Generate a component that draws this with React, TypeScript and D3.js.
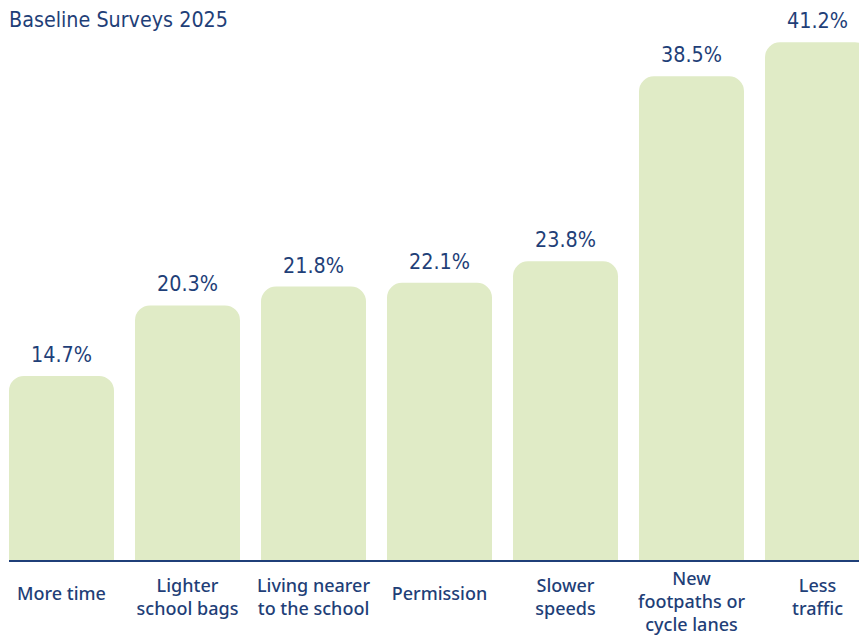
import React from "react";
import * as d3 from "d3";

const categories: string[][] = [
  ["More time"],
  ["Lighter", "school bags"],
  ["Living nearer", "to the school"],
  ["Permission"],
  ["Slower", "speeds"],
  ["New", "footpaths or", "cycle lanes"],
  ["Less", "traffic"],
];
const values: number[] = [14.7, 20.3, 21.8, 22.1, 23.8, 38.5, 41.2];
const title = "Baseline Surveys 2025";

const W = 859;
const H = 641;
const BASE = 561;
const BLUE = "#1f3f78";
const GREEN = "#e0ebc6";

function topRoundedRect(x: number, y: number, w: number, h: number, r: number) {
  const rr = Math.min(r, w / 2, h);
  const p = d3.path();
  p.moveTo(x, y + h);
  p.lineTo(x, y + rr);
  p.arcTo(x, y, x + rr, y, rr);
  p.lineTo(x + w - rr, y);
  p.arcTo(x + w, y, x + w, y + rr, rr);
  p.lineTo(x + w, y + h);
  p.closePath();
  return p.toString();
}

export default function App() {
  const keys = categories.map((c) => c.join(" "));
  const x = d3
    .scaleBand<string>()
    .domain(keys)
    .range([9, 870])
    .paddingInner(21 / 126)
    .paddingOuter(0);
  const y = d3.scaleLinear().domain([0, 40]).range([BASE, BASE - 503.6]);
  const bw = x.bandwidth();

  return (
    <svg
      width={W}
      height={H}
      style={{ position: "absolute", left: 0, top: 0, background: "#fff" }}
    >
      <text
        x={9}
        y={27}
        fill={BLUE}
        fontFamily="'DejaVu Sans Condensed', 'DejaVu Sans', Tahoma, sans-serif"
        fontSize={21}
        textLength={219}
        lengthAdjust="spacingAndGlyphs"
      >
        {title}
      </text>
      {values.map((v, i) => {
        const k = keys[i];
        const x0 = x(k) as number;
        const yt = y(v);
        return (
          <g key={k}>
            <path d={topRoundedRect(x0, yt, bw, BASE - yt, 15)} fill={GREEN} />
            <text
              x={x0 + bw / 2}
              y={yt - 14}
              textAnchor="middle"
              fill={BLUE}
              fontFamily="'DejaVu Sans Condensed', 'DejaVu Sans', Tahoma, sans-serif"
              fontSize={21}
              textLength={61}
              lengthAdjust="spacingAndGlyphs"
            >
              {v.toFixed(1) + "%"}
            </text>
          </g>
        );
      })}
      <line x1={9} x2={W} y1={BASE} y2={BASE} stroke={BLUE} strokeWidth={2} />
      {categories.map((lines, i) => {
        const k = keys[i];
        const cx = (x(k) as number) + bw / 2;
        const n = lines.length;
        const startY = n === 1 ? 600 : n === 2 ? 592 : 585;
        return (
          <text
            key={k}
            textAnchor="middle"
            fill={BLUE}
            fontFamily="'Noto Sans', sans-serif"
            fontSize={18}
            fontWeight={500}
          >
            {lines.map((ln, j) => (
              <tspan key={j} x={cx} y={startY + j * 23}>
                {ln}
              </tspan>
            ))}
          </text>
        );
      })}
    </svg>
  );
}
